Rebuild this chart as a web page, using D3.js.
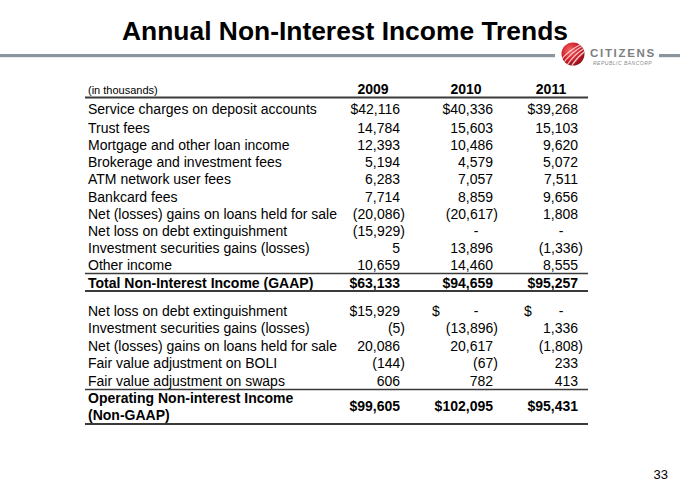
<!DOCTYPE html>
<html><head><meta charset="utf-8">
<script src="https://cdn.jsdelivr.net/npm/d3@7/dist/d3.min.js"></script>
<style>
html,body{margin:0;padding:0;background:#fff;}
svg{display:block;font-family:"Liberation Sans",Arial,sans-serif;}
</style></head>
<body>
<svg id="chart" width="680" height="484"></svg>
<script>
// ---------- DATA ----------
const title = "Annual Non-Interest Income Trends";
const unitsLabel = "(in thousands)";
const years = ["2009", "2010", "2011"];

const incomeItems = [
  "Service charges on deposit accounts",
  "Trust fees",
  "Mortgage and other loan income",
  "Brokerage and investment fees",
  "ATM network user fees",
  "Bankcard fees",
  "Net (losses) gains on loans held for sale",
  "Net loss on debt extinguishment",
  "Investment securities gains (losses)",
  "Other income"
];
const income2009 = [42116, 14784, 12393, 5194, 6283, 7714, -20086, -15929, 5, 10659];
const income2010 = [40336, 15603, 10486, 4579, 7057, 8859, -20617, null, 13896, 14460];
const income2011 = [39268, 15103, 9620, 5072, 7511, 9656, 1808, null, -1336, 8555];

const totalLabel = "Total Non-Interest Income (GAAP)";
const totalGAAP = [63133, 94659, 95257];

const adjItems = [
  "Net loss on debt extinguishment",
  "Investment securities gains (losses)",
  "Net (losses) gains on loans held for sale",
  "Fair value adjustment on BOLI",
  "Fair value adjustment on swaps"
];
const adj2009 = [15929, -5, 20086, -144, 606];
const adj2010 = [null, -13896, 20617, -67, 782];
const adj2011 = [null, 1336, -1808, 233, 413];

const operatingLabel = ["Operating Non-interest Income", "(Non-GAAP)"];
const operatingNonGAAP = [99605, 102095, 95431];

const pageNumber = "33";

// ---------- LAYOUT ----------
const svg = d3.select("#chart");
const fmt = d3.format(",");
const colRight = d3.scaleOrdinal().domain(years).range([400, 493, 578]);
const colLeft = d3.scaleOrdinal().domain(years).range([346, 432, 524]);
const rowY1 = d3.scaleLinear().domain([1, 9]).range([128, 265]);
const rowY1f = i => i === 0 ? 108.5 : rowY1(i);
const rowY2 = d3.scaleLinear().domain([0, 4]).range([310.5, 381]);
const FS = 14, labelX = 88, tableL = 85, tableR = 588;
const base = c => c + 5;

// Title
svg.append("text").attr("x", 345).attr("y", 39.5)
  .attr("text-anchor", "middle").attr("font-weight", "bold")
  .attr("font-size", 26.5).attr("textLength", 446).attr("lengthAdjust", "spacingAndGlyphs")
  .attr("fill", "#000").text(title);

// gray rule with logo
svg.append("rect").attr("x", 0).attr("y", 54).attr("width", 555).attr("height", 3.2).attr("fill", "#8a959d");
svg.append("rect").attr("x", 659).attr("y", 54).attr("width", 21).attr("height", 3.2).attr("fill", "#8a959d");

// logo sphere
const defs = svg.append("defs");
const rg = defs.append("radialGradient").attr("id", "sph").attr("cx", "38%").attr("cy", "35%").attr("r", "70%");
rg.append("stop").attr("offset", "0%").attr("stop-color", "#f26a6a");
rg.append("stop").attr("offset", "55%").attr("stop-color", "#d3202a");
rg.append("stop").attr("offset", "100%").attr("stop-color", "#8e0f16");
defs.append("clipPath").attr("id", "sphClip").append("circle").attr("cx", 573).attr("cy", 54).attr("r", 11.5);
svg.append("circle").attr("cx", 573).attr("cy", 54).attr("r", 11.5).attr("fill", "url(#sph)");
const stripes = svg.append("g").attr("clip-path", "url(#sphClip)");
[-6, -1, 4, 9].forEach(o => {
  stripes.append("path")
    .attr("d", `M${560 + o},${70} Q${570 + o},${52} ${588 + o},${44}`)
    .attr("fill", "none").attr("stroke", "#fff").attr("stroke-opacity", 0.75).attr("stroke-width", 1.2);
});
svg.append("text").attr("x", 590).attr("y", 56.5).attr("font-size", 11.5).attr("font-weight", "bold")
  .attr("letter-spacing", 1.7).attr("fill", "#7e7e80").text("CITIZENS");
svg.append("text").attr("x", 593).attr("y", 65).attr("font-size", 5).attr("font-style", "italic")
  .attr("letter-spacing", 0.5).attr("fill", "#8a8a8c").text("REPUBLIC BANCORP");

// header
svg.append("text").attr("x", labelX).attr("y", 93.5).attr("font-size", 11).attr("fill", "#000").text(unitsLabel);
svg.selectAll("text.yr").data(years).join("text").attr("class", "yr")
  .attr("x", d => colRight(d) - 27).attr("y", 93.5).attr("text-anchor", "middle")
  .attr("font-size", FS).attr("font-weight", "bold").text(d => d);

function hline(y, w) {
  svg.append("line").attr("x1", tableL).attr("x2", tableR).attr("y1", y).attr("y2", y)
    .attr("stroke", "#3a3a3a").attr("stroke-width", w);
}
hline(97.5, 2);

// value cell renderer
function cell(year, y, v, opts) {
  const r = colRight(year);
  const g = svg.append("g").attr("font-size", FS).attr("font-weight", opts.bold ? "bold" : "normal");
  if (v === null) {
    if (opts.dollar) g.append("text").attr("x", colLeft(year)).attr("y", y).text("$");
    g.append("text").attr("x", r - 17).attr("y", y).attr("text-anchor", "middle").text("-");
    return;
  }
  const s = (opts.dollar ? "$" : "") + fmt(Math.abs(v));
  if (v < 0) g.append("text").attr("x", r + 5).attr("y", y).attr("text-anchor", "end").text("(" + s + ")");
  else g.append("text").attr("x", r).attr("y", y).attr("text-anchor", "end").text(s);
}

// section 1
const inc = [income2009, income2010, income2011];
incomeItems.forEach((lab, i) => {
  const y = base(rowY1f(i));
  svg.append("text").attr("x", labelX).attr("y", y).attr("font-size", FS).text(lab);
  years.forEach((yr, k) => cell(yr, y, inc[k][i], { dollar: i === 0 }));
});
hline(273.5, 1.6);

// total
svg.append("text").attr("x", labelX).attr("y", base(283)).attr("font-size", FS).attr("font-weight", "bold").text(totalLabel);
years.forEach((yr, k) => cell(yr, base(283), totalGAAP[k], { dollar: true, bold: true }));
hline(291, 2);

// section 2
const adj = [adj2009, adj2010, adj2011];
adjItems.forEach((lab, i) => {
  const y = base(rowY2(i));
  svg.append("text").attr("x", labelX).attr("y", y).attr("font-size", FS).text(lab);
  years.forEach((yr, k) => cell(yr, y, adj[k][i], { dollar: i === 0 }));
});
hline(389.5, 1.6);

// operating
operatingLabel.forEach((l, j) => {
  svg.append("text").attr("x", labelX).attr("y", base(398 + j * 17)).attr("font-size", FS)
    .attr("font-weight", "bold").text(l);
});
years.forEach((yr, k) => cell(yr, base(406), operatingNonGAAP[k], { dollar: true, bold: true }));
hline(424, 2);

// page number
svg.append("text").attr("x", 668).attr("y", 479).attr("text-anchor", "end").attr("font-size", 13).text(pageNumber);
</script>
</body></html>
